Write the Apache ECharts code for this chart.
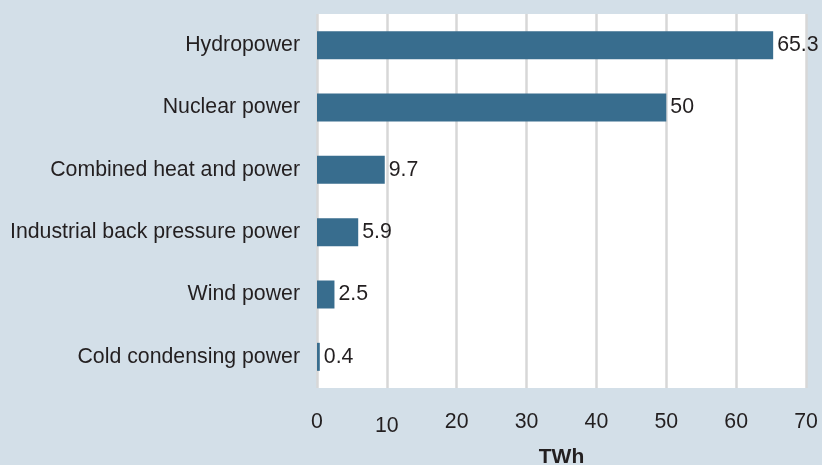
<!DOCTYPE html>
<html>
<head>
<meta charset="utf-8">
<script src="https://cdn.jsdelivr.net/npm/echarts@6/dist/echarts.min.js"></script>
<style>
  html, body { margin: 0; padding: 0; background: #d3dfe8; }
  #chart { width: 822px; height: 465px; }
</style>
</head>
<body>
<div id="chart"></div>
<script>
// Electricity generation by source, TWh
const categories = [
  'Hydropower',
  'Nuclear power',
  'Combined heat and power',
  'Industrial back pressure power',
  'Wind power',
  'Cold condensing power'
];
const values = [65.3, 50, 9.7, 5.9, 2.5, 0.4];
const axisTicks = [0, 10, 20, 30, 40, 50, 60, 70];
const axisName = 'TWh';

const chart = echarts.init(document.getElementById('chart'), null, { renderer: 'canvas' });

const textColor = '#231f20';
const font = '"Liberation Sans", Arial, Helvetica, sans-serif';
const fontSize = 21.3;

chart.setOption({
  backgroundColor: '#d3dfe8',
  animation: false,
  grid: {
    left: 317, right: 16, top: 14, bottom: 77,
    containLabel: false, outerBoundsMode: 'none',
    show: true, backgroundColor: '#ffffff', borderWidth: 0
  },
  xAxis: {
    type: 'value',
    min: axisTicks[0],
    max: axisTicks[axisTicks.length - 1],
    interval: axisTicks[1] - axisTicks[0],
    name: axisName,
    nameLocation: 'middle',
    nameGap: 59,
    nameTextStyle: { color: textColor, fontFamily: font, fontSize: 21, fontWeight: 'bold' },
    axisLine: { show: false },
    axisTick: { show: false },
    axisLabel: {
      color: textColor, fontFamily: font, fontSize: fontSize, margin: 24,
      formatter: v => (v === 10 ? '{low|' + v + '}' : String(v)),
      rich: { low: { color: textColor, fontFamily: font, fontSize: fontSize, padding: [4, 0, 0, 0] } }
    },
    splitLine: { show: true, lineStyle: { color: '#d7d7d7', width: 2.5 } }
  },
  yAxis: {
    type: 'category',
    data: categories,
    inverse: true,
    axisLine: { show: false },
    axisTick: { show: false },
    axisLabel: { color: textColor, fontFamily: font, fontSize: fontSize, margin: 17 }
  },
  series: [{
    type: 'bar',
    data: values,
    barWidth: 28,
    itemStyle: { color: '#386d8e' },
    label: {
      show: true,
      position: 'right',
      distance: 4,
      color: textColor,
      fontFamily: font,
      fontSize: fontSize
    }
  }]
});
</script>
</body>
</html>
